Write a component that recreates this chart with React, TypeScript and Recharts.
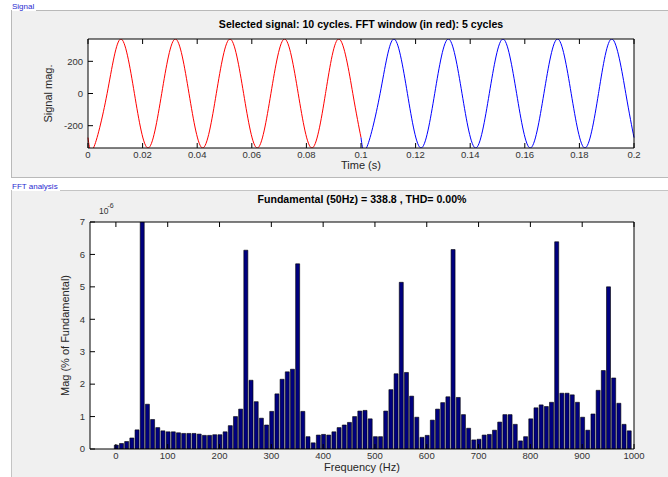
import { LineChart, Line, BarChart, Bar, XAxis, YAxis, CartesianGrid, Label } from "recharts";

// Selected signal: sampled at troughs, zero crossings and crests of each 50 Hz cycle
const signalTime = [
  0, 0.002, 0.007, 0.012, 0.017, 0.022, 0.027, 0.032, 0.037, 0.042, 0.047, 0.052, 0.057, 0.062,
  0.067, 0.072, 0.077, 0.082, 0.087, 0.092, 0.097, 0.1, 0.102, 0.107, 0.112, 0.117, 0.122, 0.127,
  0.132, 0.137, 0.142, 0.147, 0.152, 0.157, 0.162, 0.167, 0.172, 0.177, 0.182, 0.187, 0.192, 0.197, 0.2,
];
const signalMag = [
  -274, -338.8, 0, 338.8, 0, -338.8, 0, 338.8, 0, -338.8, 0, 338.8, 0, -338.8,
  0, 338.8, 0, -338.8, 0, 338.8, 0, -274, -338.8, 0, 338.8, 0, -338.8, 0,
  338.8, 0, -338.8, 0, 338.8, 0, -338.8, 0, 338.8, 0, -338.8, 0, 338.8, 0, -274,
];
const fftWindowEnd = 0.1;
const timeTicks = [0, 0.02, 0.04, 0.06, 0.08, 0.1, 0.12, 0.14, 0.16, 0.18, 0.2];
const signalTicks = [-200, 0, 200];

// Spectrum, 10 Hz bins from 0 Hz; 50 Hz is the fundamental (100 %, off scale)
const BIN_HZ = 10;
const harmonicMag = [
  0.12, 0.17, 0.23, 0.34, 0.59, 100, 1.38, 0.91, 0.66, 0.56,
  0.53, 0.53, 0.5, 0.48, 0.48, 0.48, 0.46, 0.42, 0.42, 0.44,
  0.44, 0.53, 0.72, 1.0, 1.23, 6.13, 2.12, 1.46, 0.95, 0.74,
  1.16, 1.7, 2.15, 2.38, 2.46, 5.71, 1.16, 0.38, 0.19, 0.43,
  0.45, 0.43, 0.53, 0.66, 0.74, 0.82, 1.0, 1.17, 1.19, 0.93,
  0.38, 0.38, 1.17, 1.83, 2.32, 5.14, 2.36, 1.63, 0.98, 0.36,
  0.42, 0.89, 1.23, 1.43, 1.61, 6.15, 1.59, 1.06, 0.64, 0.28,
  0.3, 0.43, 0.45, 0.58, 0.83, 1.06, 1.06, 0.76, 0.25, 0.38,
  0.93, 1.27, 1.36, 1.31, 1.44, 6.39, 1.72, 1.72, 1.67, 1.44,
  0.98, 0.58, 1.08, 1.81, 2.42, 5.0, 2.19, 1.41, 0.76, 0.56,
];
const freqTicks = [0, 100, 200, 300, 400, 500, 600, 700, 800, 900, 1000];
const magTicks = [0, 1, 2, 3, 4, 5, 6, 7];

const signalData = signalTime.map((t, i) => ({
  t,
  red: t <= fftWindowEnd ? signalMag[i] : null,
  blue: t >= fftWindowEnd ? signalMag[i] : null,
}));
const spectrumData = harmonicMag.map((mag, i) => ({ freq: i * BIN_HZ, mag }));

const FONT = "'Liberation Sans', Arial, Helvetica, sans-serif";
const TICK = 5;
const tickText = { fontSize: 9.5, fill: "#333", fontFamily: FONT };
const labelStyle = { fontSize: 11, fill: "#262626", fontFamily: FONT };
const titleStyle = { fontSize: 10.6, fontWeight: "bold", fill: "#000", fontFamily: FONT };

// MATLAB-style ticks: short marks pointing into the plot box
const BottomTick = ({ x, y, payload }: any) => (
  <g>
    <line x1={x} x2={x} y1={y} y2={y - TICK} stroke="#000" />
    <text x={x} y={y + 9.5} textAnchor="middle" {...tickText}>
      {payload.value}
    </text>
  </g>
);
const TopTick = ({ x, y }: any) => <line x1={x} x2={x} y1={y} y2={y + TICK} stroke="#000" />;
const LeftTick = ({ x, y, payload }: any) => (
  <g>
    <line x1={x} x2={x + TICK} y1={y} y2={y} stroke="#000" />
    <text x={x - 5} y={y} dy="0.35em" textAnchor="end" {...tickText}>
      {payload.value}
    </text>
  </g>
);
const RightTick = ({ x, y }: any) => <line x1={x} x2={x - TICK} y1={y} y2={y} stroke="#000" />;

const axisProps = { tickSize: 0, tickMargin: 0, tickLine: false, interval: 0 as const, axisLine: { stroke: "#000" } };

const groupLabel = (text: string, top: number) => (
  <div
    style={{
      position: "absolute",
      left: 12,
      top,
      background: "#fff",
      paddingRight: 2,
      fontSize: 8,
      lineHeight: "9px",
      color: "#2b2bd0",
      fontFamily: FONT,
    }}
  >
    {text}
  </div>
);

export default function App() {
  return (
    <div style={{ position: "absolute", left: 0, top: 0, width: 668, height: 477, background: "#fff", overflow: "hidden" }}>
      <div
        style={{
          position: "absolute",
          left: 11,
          top: 10,
          width: 657,
          height: 168,
          boxSizing: "border-box",
          background: "#f0f0f0",
          borderTop: "1px solid #b9b9b9",
          borderLeft: "1px solid #b9b9b9",
          borderBottom: "1px solid #b9b9b9",
        }}
      />
      <div
        style={{
          position: "absolute",
          left: 11,
          top: 190,
          width: 657,
          height: 300,
          boxSizing: "border-box",
          background: "#f0f0f0",
          borderTop: "1px solid #c4c4c4",
          borderLeft: "1px solid #c4c4c4",
        }}
      />
      {groupLabel("Signal", 2)}
      {groupLabel("FFT analysis", 182)}

      <div style={{ position: "absolute", left: 0, top: 0 }}>
        <LineChart width={668} height={180} data={signalData} margin={{ top: 9, right: 29, bottom: 2, left: 48 }}>
          <CartesianGrid fill="#fff" horizontal={false} vertical={false} />
          <XAxis dataKey="t" type="number" domain={[0, 0.2]} ticks={timeTicks} height={30} tick={(p: any) => <BottomTick {...p} />} {...axisProps}>
            <Label value="Time (s)" position="insideTop" offset={13.5} style={labelStyle} />
          </XAxis>
          <XAxis xAxisId="top" orientation="top" dataKey="t" type="number" domain={[0, 0.2]} ticks={timeTicks} height={30} tick={(p: any) => <TopTick {...p} />} {...axisProps}>
            <Label value="Selected signal: 10 cycles. FFT window (in red): 5 cycles" position="insideBottom" offset={10.7} style={titleStyle} />
          </XAxis>
          <YAxis type="number" domain={[-338.8, 338.8]} allowDataOverflow ticks={signalTicks} width={40} tick={(p: any) => <LeftTick {...p} />} {...axisProps}>
            <Label value="Signal mag." angle={-90} position="insideLeft" offset={0} style={{ ...labelStyle, textAnchor: "middle" }} />
          </YAxis>
          <YAxis yAxisId="right" orientation="right" type="number" domain={[-338.8, 338.8]} ticks={signalTicks} width={5} tick={(p: any) => <RightTick {...p} />} {...axisProps} />
          <Line dataKey="red" type="natural" stroke="#ff0000" strokeWidth={1} dot={false} isAnimationActive={false} />
          <Line dataKey="blue" type="natural" stroke="#0000ff" strokeWidth={1} dot={false} isAnimationActive={false} />
        </LineChart>
      </div>

      <div style={{ position: "absolute", left: 99, top: 206, fontSize: 8.5, lineHeight: "10px", color: "#333", fontFamily: FONT }}>10</div>
      <div style={{ position: "absolute", left: 107.5, top: 201, fontSize: 7, lineHeight: "9px", color: "#333", fontFamily: FONT }}>-6</div>

      <div style={{ position: "absolute", left: 0, top: 190 }}>
        <BarChart width={668} height={287} data={spectrumData} margin={{ top: 2, right: 29, bottom: 0, left: 50 }}>
          <CartesianGrid fill="#fff" horizontal={false} vertical={false} />
          <XAxis dataKey="freq" type="number" domain={[-50, 1000]} ticks={freqTicks} height={28} tick={(p: any) => <BottomTick {...p} />} {...axisProps}>
            <Label value="Frequency (Hz)" position="insideTop" offset={14.5} style={labelStyle} />
          </XAxis>
          <XAxis xAxisId="top" orientation="top" dataKey="freq" type="number" domain={[-50, 1000]} ticks={freqTicks} height={30} tick={(p: any) => <TopTick {...p} />} {...axisProps}>
            <Label value="Fundamental (50Hz) = 338.8 , THD= 0.00%" position="insideBottom" offset={19.5} style={titleStyle} />
          </XAxis>
          <YAxis type="number" domain={[0, 7]} allowDataOverflow ticks={magTicks} width={40} tick={(p: any) => <LeftTick {...p} />} {...axisProps}>
            <Label value="Mag (% of Fundamental)" angle={-90} position="insideLeft" offset={15} style={{ ...labelStyle, textAnchor: "middle" }} />
          </YAxis>
          <YAxis yAxisId="right" orientation="right" type="number" domain={[0, 7]} ticks={magTicks} width={5} tick={(p: any) => <RightTick {...p} />} {...axisProps} />
          <Bar dataKey="mag" fill="#00007f" stroke="#000" strokeWidth={0.6} barSize={4} isAnimationActive={false} />
        </BarChart>
      </div>
    </div>
  );
}
